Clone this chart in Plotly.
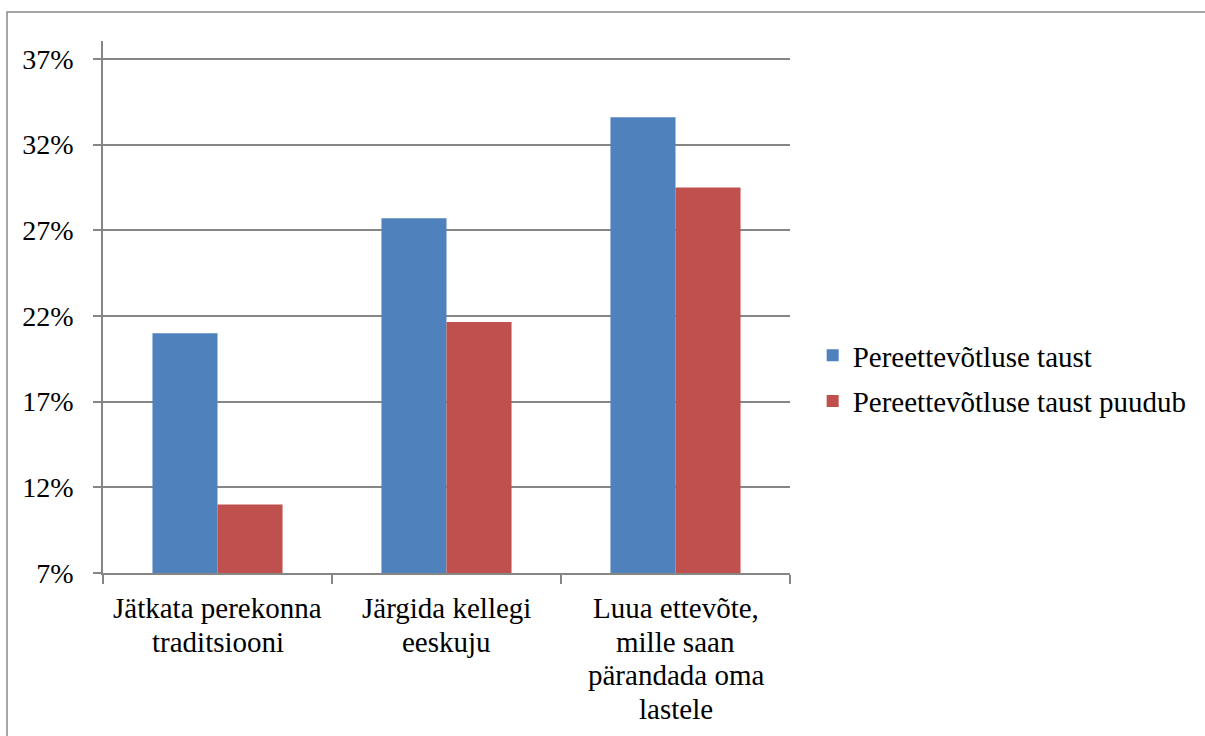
import plotly.graph_objects as go

# Survey motives and the share of respondents choosing each, by family-business background
categories = [
    "Jätkata perekonna<br>traditsiooni",
    "Järgida kellegi<br>eeskuju",
    "Luua ettevõte,<br>mille saan<br>pärandada oma<br>lastele",
]
series_names = ["Pereettevõtluse taust", "Pereettevõtluse taust puudub"]
with_background = [21.0, 27.7, 33.6]
without_background = [11.0, 21.65, 29.5]
y_ticks = [7, 12, 17, 22, 27, 32, 37]
y_tick_labels = ["7%", "12%", "17%", "22%", "27%", "32%", "37%"]

FONT = "Liberation Serif"
GRID = "#868686"
FS = 29
FS_TICK = 28

fig = go.Figure()
fig.add_trace(go.Bar(x=list(range(3)), y=with_background, name=series_names[0],
                     legendgroup="a", marker=dict(color="#4F81BD", line=dict(width=0))))
fig.add_trace(go.Bar(x=list(range(3)), y=without_background, name=series_names[1],
                     legendgroup="b", marker=dict(color="#C0504D", line=dict(width=0))))

# category labels, one annotation per line for tight line spacing
line_step = 33.5
for i, cat in enumerate(categories):
    for j, line in enumerate(cat.split("<br>")):
        fig.add_annotation(x=i, y=0, xref="x", yref="paper", text=line,
                           showarrow=False, xanchor="center", yanchor="middle",
                           yshift=-(35 + j * line_step),
                           font=dict(family=FONT, size=FS, color="#000"))

# frame around the whole chart area
fig.add_shape(type="rect", xref="paper", yref="paper",
              x0=-0.1397, y0=-1.0, x1=2.0, y1=1.0545,
              line=dict(color="#8a8a8a", width=1.5), layer="below")

fig.update_layout(
    width=1205, height=736,
    margin=dict(l=103, r=415, t=41, b=163, pad=0),
    paper_bgcolor="white", plot_bgcolor="white",
    barmode="group", bargap=0.432, bargroupgap=0,
    font=dict(family=FONT, size=FS, color="#000"),
    showlegend=True,
    legend=dict(x=1.033, y=0.3656, xanchor="left", yanchor="middle",
                font=dict(family=FONT, size=FS, color="#000"),
                bgcolor="rgba(0,0,0,0)", tracegroupgap=5),
    xaxis=dict(type="linear", range=[-0.5, 2.5], tickvals=[-0.5, 0.5, 1.5, 2.5],
               showticklabels=False, ticks="outside", ticklen=9, tickwidth=1.5,
               tickcolor=GRID, showgrid=False, zeroline=False,
               showline=True, linecolor=GRID, linewidth=1.5, fixedrange=True),
    yaxis=dict(range=[7, 38.05], tickmode="array", tickvals=y_ticks, ticktext=y_tick_labels,
               ticks="outside", ticklen=8, tickwidth=1.5, tickcolor=GRID,
               showgrid=True, gridcolor=GRID, gridwidth=1.5, zeroline=False,
               showline=True, linecolor=GRID, linewidth=1.5,
               ticklabelstandoff=14, tickfont=dict(family=FONT, size=FS_TICK, color="#000")),
)

fig.write_html("out.html")
